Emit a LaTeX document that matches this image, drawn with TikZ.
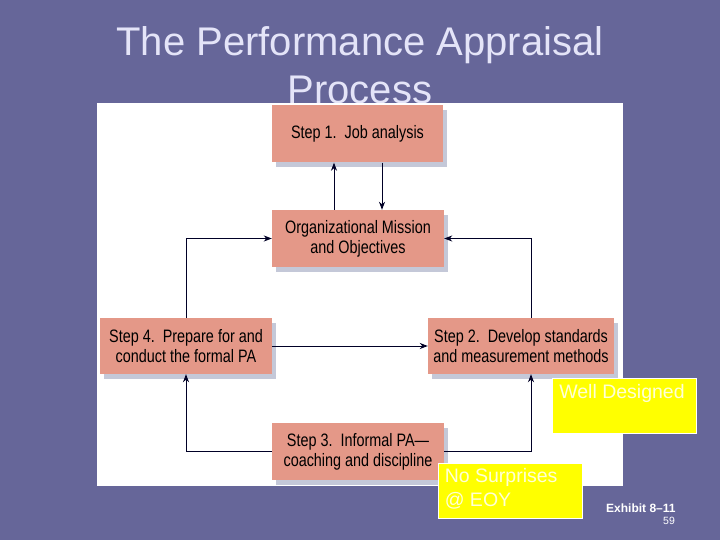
\documentclass[tikz,border=0pt]{standalone}
\usepackage{fontspec}
\setmainfont{Liberation Sans}
\newfontfamily\narrowfont[FakeStretch=0.80,Ligatures=TeX]{Liberation Sans}
\usepackage{tikz}
\usetikzlibrary{positioning,arrows.meta,shadows}
\definecolor{slide}{RGB}{102,102,153}
\definecolor{titletext}{RGB}{228,228,248}
\definecolor{salmon}{RGB}{228,152,136}
\definecolor{shadowgrey}{RGB}{196,200,216}
\definecolor{note}{RGB}{255,255,0}
\definecolor{notetext}{RGB}{255,255,215}

\tikzset{
  stepbox/.style={fill=salmon, minimum height=57pt, inner sep=2pt, align=center,
    font=\narrowfont\fontsize{18}{20}\selectfont,
    drop shadow={shadow xshift=4pt, shadow yshift=-5pt, fill=shadowgrey, opacity=1}},
  notebox/.style={fill=note, draw=white, line width=0.8pt, minimum width=144pt,
    minimum height=55pt},
  notelabel/.style={anchor=north west, align=left, text=notetext, inner sep=0pt,
    font=\fontsize{19.5}{24}\selectfont},
  link/.style={line width=0.9pt, black!85!blue},
  tip/.style={-{Stealth[length=8pt,width=6pt,inset=2.5pt]}}
}

\begin{document}
\begin{tikzpicture}[x=1pt, y=-1pt]
  \fill[slide] (0,0) rectangle (720,540);
  \node[text=titletext, font=\fontsize{40}{48}\selectfont, align=center] (title) at (360,65)
    {The Performance Appraisal\\Process};
  \fill[white] (97,103) rectangle (623,486);
  % the five steps
  \node[stepbox, minimum width=171pt] (job) at (357.5,134) {Step 1.\ \ Job analysis};
  \node[stepbox, minimum width=172pt] (mission) at (358,238.5) {Organizational Mission\\and Objectives};
  \node[stepbox, minimum width=172pt, minimum height=56pt] (formal) at (186,346) {Step 4.\ \ Prepare for and\\conduct the formal PA};
  \node[stepbox, minimum width=186pt, minimum height=56pt] (develop) at (521,346) {Step 2.\ \ Develop standards\\and measurement methods};
  \node[stepbox, minimum width=172pt] (informal) at (358,451.5) {Step 3.\ \ Informal PA—\\coaching and discipline};
  % connectors
  \draw[link, tip] ([xshift=-24]mission.north) -- ([xshift=-23.5]job.south);
  \draw[link, tip] ([xshift=24.5]job.south) -- ([xshift=24]mission.north);
  \draw[link, tip] (formal.north) |- (mission.west);
  \draw[link, tip, {Stealth[length=8pt,width=6pt,inset=2.5pt]}-] (mission.east) -| ([xshift=10]develop.north);
  \draw[link, tip] (formal.east) -- (develop.west);
  \draw[link, tip, {Stealth[length=8pt,width=6pt,inset=2.5pt]}-] (formal.south) |- (informal.west);
  \draw[link, tip, {Stealth[length=8pt,width=6pt,inset=2.5pt]}-] ([xshift=10]develop.south) |- (informal.east);
  % notes
  \node[notebox] (designed) at (624.5,405.5) {};
  \node[notelabel] (designedtext) at ([xshift=7,yshift=-7]designed.north west) {Well Designed};
  \node[notebox] (surprises) at (510,490.5) {};
  \node[notelabel] (surprisestext) at ([xshift=7,yshift=-6]surprises.north west) {No Surprises\\@ EOY};
  \node[text=white, font=\bfseries\fontsize{12}{14}\selectfont, anchor=west, inner sep=0pt] (exhibit) at (606,508) {Exhibit 8--11};
  \node[text=white, font=\fontsize{10.5}{12}\selectfont, inner sep=0pt] (page) at (669,521) {59};
\end{tikzpicture}
\end{document}
